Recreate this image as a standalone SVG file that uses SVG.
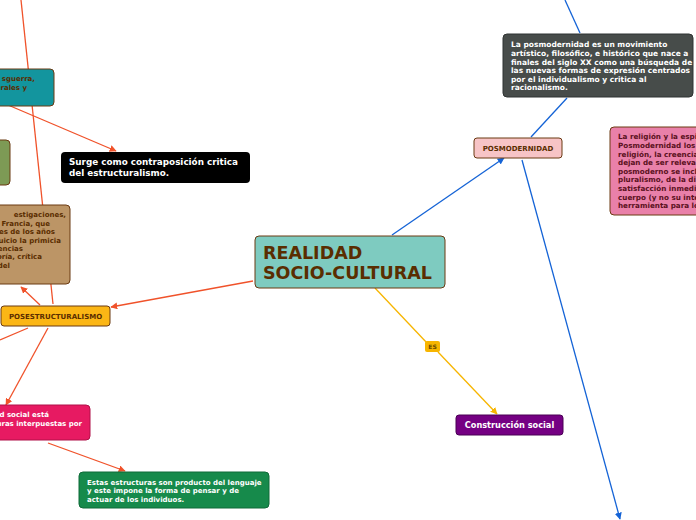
<svg xmlns="http://www.w3.org/2000/svg" width="696" height="520" viewBox="0 0 696 520">
<defs>
<marker id="ao" viewBox="0 0 10 10" refX="9" refY="5" markerWidth="7" markerHeight="7" orient="auto-start-reverse" markerUnits="userSpaceOnUse"><path d="M0,0 L10,5 L0,10 z" fill="#f0522a"/></marker>
<marker id="ab" viewBox="0 0 10 10" refX="9" refY="5" markerWidth="7" markerHeight="7" orient="auto-start-reverse" markerUnits="userSpaceOnUse"><path d="M0,0 L10,5 L0,10 z" fill="#1463d6"/></marker>
<marker id="ay" viewBox="0 0 10 10" refX="9" refY="5" markerWidth="7" markerHeight="7" orient="auto-start-reverse" markerUnits="userSpaceOnUse"><path d="M0,0 L10,5 L0,10 z" fill="#f7b500"/></marker>
</defs>
<style>
text{font-family:"DejaVu Sans","Verdana",sans-serif;font-weight:bold}
.n{stroke:#6b3a12;stroke-width:1}
.w{fill:#ffffff}
.d{fill:#5a2d00}
.co{stroke:#f0522a;stroke-width:1.3;fill:none}
.cb{stroke:#1463d6;stroke-width:1.3;fill:none}
.cy{stroke:#f7b500;stroke-width:1.3;fill:none}
.s{font-size:7px}
.g{font-size:7.5px}
.r{font-size:7.2px;fill:#5a1020}
</style>
<rect width="696" height="520" fill="#ffffff"/>
<g id="connectors">
<line class="co" x1="21" y1="0" x2="53" y2="304"/>
<line class="co" x1="253" y1="281" x2="111" y2="307" marker-end="url(#ao)"/>
<line class="co" x1="40" y1="305" x2="21" y2="287" marker-end="url(#ao)"/>
<line class="co" x1="8" y1="105" x2="116" y2="151" marker-end="url(#ao)"/>
<line class="co" x1="28" y1="328" x2="0" y2="340"/>
<line class="co" x1="48" y1="328" x2="6" y2="405" marker-end="url(#ao)"/>
<line class="co" x1="48" y1="443" x2="125" y2="471" marker-end="url(#ao)"/>
<line class="cb" x1="392" y1="235" x2="504" y2="158" marker-end="url(#ab)"/>
<line class="cb" x1="531" y1="137" x2="567" y2="98"/>
<line class="cb" x1="565" y1="0" x2="580" y2="33"/>
<line class="cb" x1="522" y1="160" x2="620" y2="519" marker-end="url(#ab)"/>
<line class="cy" x1="375" y1="288" x2="427" y2="343"/>
<line class="cy" x1="438" y1="352" x2="497" y2="414" marker-end="url(#ay)"/>
</g>
<g id="main">
<rect class="n" x="255" y="236" width="190" height="52" rx="4" fill="#7ecbc0"/>
<text x="263" y="259" font-size="17.5" class="d">REALIDAD</text>
<text x="263" y="279" font-size="17.5" class="d">SOCIO-CULTURAL</text>
</g>
<g id="posmodernidad">
<rect class="n" x="474" y="138" width="88" height="20" rx="3" fill="#f7c4c6"/>
<text x="518" y="151" font-size="7" text-anchor="middle" class="d">POSMODERNIDAD</text>
</g>
<g id="posmod-def">
<rect x="503" y="34" width="190" height="63" rx="4" fill="#474c4a" stroke="#2f3332"/>
<text class="w g" x="511" y="47">La posmodernidad es un movimiento</text>
<text class="w g" x="511" y="56">artístico, filosófico, e histórico que nace a</text>
<text class="w g" x="511" y="65">finales del siglo XX como una búsqueda de</text>
<text class="w g" x="511" y="73">las nuevas formas de expresión centrados</text>
<text class="w g" x="511" y="82">por el individualismo y critica al</text>
<text class="w g" x="511" y="90">racionalismo.</text>
</g>
<g id="religion">
<rect class="n" x="610" y="127" width="100" height="88" rx="4" fill="#e980a9"/>
<text class="r" x="618" y="139">La religión y la espir</text>
<text class="r" x="618" y="148">Posmodernidad los</text>
<text class="r" x="618" y="157">religión, la creencia</text>
<text class="r" x="618" y="165">dejan de ser relevan</text>
<text class="r" x="618" y="174">posmoderno se incli</text>
<text class="r" x="618" y="182">pluralismo, de la div</text>
<text class="r" x="618" y="191">satisfacción inmedi</text>
<text class="r" x="618" y="200">cuerpo (y no su inte</text>
<text class="r" x="618" y="208">herramienta para lo</text>
</g>
<g id="es-label">
<rect x="425" y="341" width="15" height="11" rx="2" fill="#f7b500"/>
<text x="432.5" y="349" font-size="6" text-anchor="middle" fill="#6b4a00">ES</text>
</g>
<g id="construccion">
<rect x="456" y="415" width="107" height="20" rx="3" fill="#750083" stroke="#4a0055"/>
<text x="509.5" y="428" font-size="8.2" text-anchor="middle" class="w">Construcción social</text>
</g>
<g id="posestructuralismo">
<rect class="n" x="1" y="306" width="109" height="20" rx="3" fill="#fbb615"/>
<text x="55.5" y="319" font-size="7" text-anchor="middle" class="d">POSESTRUCTURALISMO</text>
</g>
<g id="surge">
<rect x="61" y="152" width="189" height="31" rx="4" fill="#000000"/>
<text class="w" font-size="8.8" x="69" y="165">Surge como contraposición critica</text>
<text class="w" font-size="8.8" x="69" y="176">del estructuralismo.</text>
</g>
<g id="teal">
<rect class="n" x="-10" y="69" width="64" height="37" rx="4" fill="#13959e"/>
<text class="d s" x="35" y="81" text-anchor="end">sguerra,</text>
<text class="d s" x="27" y="90" text-anchor="end">rales y</text>
</g>
<g id="olive">
<rect class="n" x="-10" y="140" width="20" height="45" rx="4" fill="#7d9a55"/>
</g>
<g id="tan">
<rect class="n" x="-10" y="205" width="80" height="79" rx="4" fill="#bc9566"/>
<text class="d s" x="66" y="217" text-anchor="end">estigaciones,</text>
<text class="d s" x="50" y="226" text-anchor="end">Francia, que</text>
<text class="d s" x="55" y="234" text-anchor="end">es de los años</text>
<text class="d s" x="61" y="243" text-anchor="end">uicio la primicia</text>
<text class="d s" x="23" y="251" text-anchor="end">encias</text>
<text class="d s" x="42" y="259" text-anchor="end">oría, crítica</text>
<text class="d s" x="10" y="268" text-anchor="end">del</text>
</g>
<g id="pink">
<rect x="-10" y="405" width="100" height="35" rx="4" fill="#e71a62" stroke="#b01048"/>
<text class="w s" x="49" y="417" text-anchor="end">ad social está</text>
<text class="w s" x="82" y="426" text-anchor="end">uras interpuestas por</text>
</g>
<g id="green">
<rect x="79" y="472" width="190" height="36" rx="4" fill="#168a4b" stroke="#0f6b38"/>
<text class="w s" x="87" y="485">Estas estructuras son producto del lenguaje</text>
<text class="w s" x="87" y="493">y este impone la forma de pensar y de</text>
<text class="w s" x="87" y="502">actuar de los individuos.</text>
</g>
</svg>
